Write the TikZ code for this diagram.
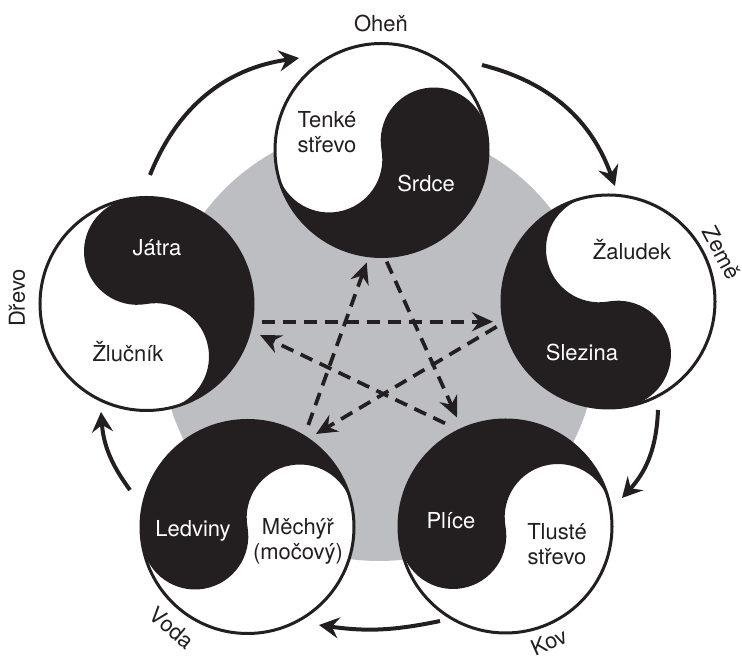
\documentclass[tikz,border=0pt]{standalone}
\usepackage{fontspec}
\setmainfont{TeX Gyre Heros}
\usetikzlibrary{arrows.meta}
\usepackage{xcolor}
\definecolor{ink}{RGB}{35,31,32}
\definecolor{disc}{RGB}{189,190,193}

\begin{document}
\begin{tikzpicture}[x=1pt,y=1pt]
    \def\R{106.5}
    \tikzset{organ/.style={font=\fontsize{22}{25}\selectfont,align=center,text=ink},
             inv/.style={organ,text=white},
             element/.style={organ},
             genarrow/.style={ink,line width=4pt,-{Stealth[length=20pt,width=21pt,inset=7pt]}},
             ctrlarrow/.style={ink,line width=3.7pt,dash pattern=on 13pt off 8pt,
                               -{Stealth[length=21pt,width=19pt,inset=7pt]}}}
    \useasboundingbox (0,0) rectangle (742,658);
    \fill[disc] (379,315) circle [radius=218];
    \coordinate (ohen) at (381.5,508);
    \coordinate (drevo) at (146.5,354);
    \coordinate (zeme) at (608.5,356.5);
    \coordinate (voda) at (247.5,131);
    \coordinate (kov) at (505.5,131.5);
    \foreach \n/\a in {ohen/10,drevo/100,zeme/280,voda/190,kov/190}{
        \fill[white] (\n) circle [radius=\R];
        \begin{scope}[shift={(\n)},rotate=\a]
            \fill[ink] (\R,0) arc [start angle=0,end angle=-180,radius=\R]
                arc [start angle=180,end angle=360,radius=\R/2]
                arc [start angle=180,end angle=0,radius=\R/2] -- cycle;
        \end{scope}
        \draw[ink,line width=3pt] (\n) circle [radius=\R];
    }
    \node[organ] (tenke) at (327,526) {Tenké\\střevo};
    \node[inv] (srdce) at (426,475) {Srdce};
    \node[inv] (jatra) at (157,410) {Játra};
    \node[organ] (zlucnik) at (128,306) {Žlučník};
    \node[organ] (zaludek) at (632,408) {Žaludek};
    \node[inv] (slezina) at (582,306) {Slezina};
    \node[inv] (ledviny) at (193,127) {Ledviny};
    \node[organ] (mechyr) at (298,117) {Měchýř\\(močový)};
    \node[inv] (plice) at (451,137) {Plíce};
    \node[organ] (tluste) at (557,114) {Tlusté\\střevo};
    \node[element] (ohenlabel) at (381,635) {Oheň};
    \node[element,rotate=90] (drevolabel) at (17,360) {Dřevo};
    \node[element,rotate=-62] (zemelabel) at (722,405) {Země};
    \node[element,rotate=-40] (vodalabel) at (172,30) {Voda};
    \node[element,rotate=24] (kovlabel) at (549,16) {Kov};
    \coordinate (dout) at (261.7,336.3);
    \coordinate (din) at (260,323);
    \coordinate (zin) at (493,336.3);
    \coordinate (zout) at (496.7,331.3);
    \coordinate (oout) at (386.7,396.3);
    \coordinate (oin) at (366.7,395.5);
    \coordinate (kin) at (457,240.5);
    \coordinate (kout) at (445,234.7);
    \coordinate (vin) at (316,224);
    \coordinate (vout) at (308.3,233);
    \foreach \a/\b in {dout/zin,oout/kin,kout/din,zout/vin,vout/oin}
        \draw[ctrlarrow] (\a) -- (\b);
    \coordinate (dtail) at (150,483);
    \coordinate (ohead) at (299,600);
    \coordinate (otail) at (482,593);
    \coordinate (zhead) at (615,472);
    \coordinate (ztail) at (658,248);
    \coordinate (khead) at (622,160);
    \coordinate (ktail) at (440,37);
    \coordinate (vhead) at (319,33);
    \coordinate (vtail) at (130,168);
    \coordinate (dhead) at (101,246);
    \foreach \a/\b/\k in {dtail/ohead/30,otail/zhead/28,ztail/khead/20,ktail/vhead/10,vtail/dhead/16}
        \draw[genarrow] (\a) to [bend left=\k] (\b);
\end{tikzpicture}
\end{document}
